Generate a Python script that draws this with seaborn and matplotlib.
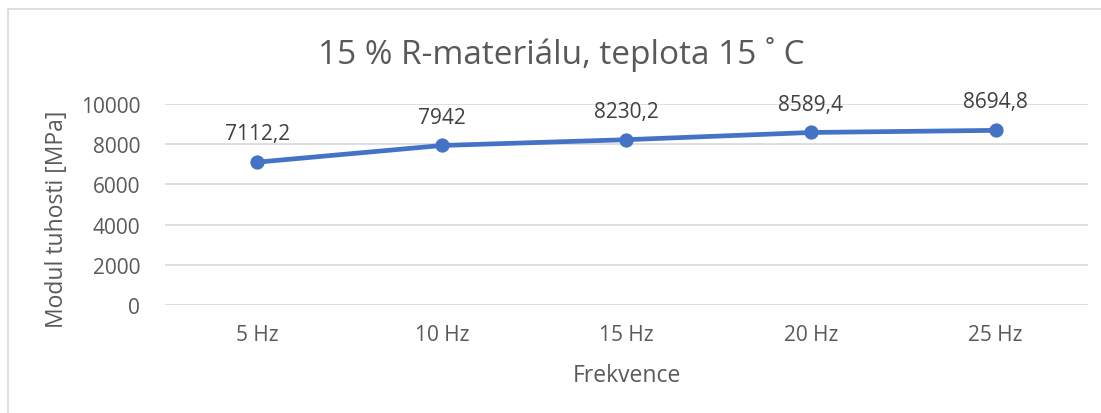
import pandas as pd
import matplotlib.pyplot as plt
import seaborn as sns
from matplotlib.patches import Rectangle

# data
frekvence = ["5 Hz", "10 Hz", "15 Hz", "20 Hz", "25 Hz"]
modul = [7112.2, 7942, 8230.2, 8589.4, 8694.8]
popisky = ["7112,2", "7942", "8230,2", "8589,4", "8694,8"]

df = pd.DataFrame({"frekvence": frekvence, "modul": modul})

sns.set_style("white")
plt.rcParams["font.family"] = ["Open Sans", "DejaVu Sans"]
text_color = "#595959"

fig = plt.figure(figsize=(11.01, 4.14), dpi=100)
ax = fig.add_axes([0.150, 0.261, 0.838, 0.485])

sns.lineplot(data=df, x="frekvence", y="modul", sort=False, ax=ax,
             color="#4472C4", linewidth=3.4, marker="o", markersize=9.5,
             markeredgecolor="#4472C4")

# data labels above the points
for i, (v, lab) in enumerate(zip(modul, popisky)):
    ax.annotate(lab, (i, v), xytext=(0, 16.5), textcoords="offset points",
                ha="center", va="baseline", fontsize=15, color="#404040")

ax.set_xlim(-0.5, len(frekvence) - 0.5)
ax.set_ylim(0, 10000)
ax.set_yticks(range(0, 10001, 2000))
ax.grid(axis="y", color="#d9d9d9", linewidth=1.2)
ax.set_axisbelow(True)
for s in ax.spines.values():
    s.set_visible(False)
ax.tick_params(axis="both", length=0, labelsize=15, labelcolor=text_color)
ax.tick_params(axis="x", pad=14)
ax.tick_params(axis="y", pad=18)

ax.set_xlabel("Frekvence", fontsize=16.5, color=text_color, va="center")
ax.xaxis.set_label_coords(0.5, -0.348)
ax.set_ylabel("Modul tuhosti [MPa]", fontsize=16.5, color=text_color, va="center")
ax.yaxis.set_label_coords(-0.117, 0.43)

fig.text(0.5095, 0.845, "15 % R-materiálu, teplota 15 ˚ C", ha="center", va="baseline",
         fontsize=24, color=text_color)

# light chart border (top and left edges visible)
fig.patches.append(Rectangle((0.0073, -0.1), 1.2, 1.076, transform=fig.transFigure,
                             fill=False, edgecolor="#d9d9d9", linewidth=1.2))

plt.savefig("out.png", dpi=100)
